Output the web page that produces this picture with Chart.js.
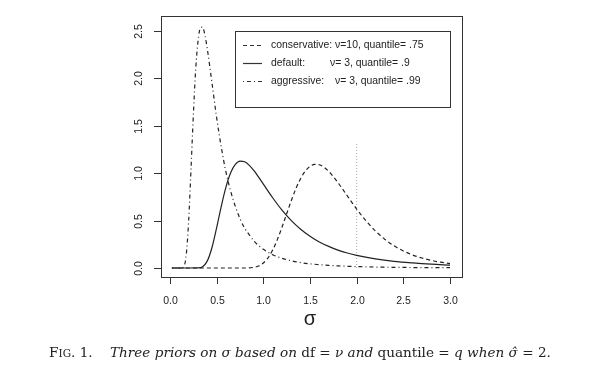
<!DOCTYPE html>
<html lang="en">
<head>
  <meta charset="UTF-8" />
  <title>Three priors on sigma</title>
  <script src="https://cdn.jsdelivr.net/npm/chart.js"></script>
  <style>
    body { margin: 0; background: #fff; }
    #wrap { position: relative; width: 600px; height: 379px; }
    #caption {
      position: absolute; left: 0; top: 344px; width: 600px;
      text-align: center; white-space: nowrap;
      font-family: "DejaVu Serif", "Liberation Serif", serif;
      font-size: 13.6px; color: #222;
    }
    #caption small { font-size: 10.5px; }
  </style>
</head>
<body>
  <div id="wrap">
    <canvas id="priors" width="600" height="379"></canvas>
    <div id="caption">F<small>IG</small>. 1.&nbsp;&nbsp;&nbsp; <i>Three priors on σ based on</i> df = <i>ν</i> <i>and</i> quantile = <i>q</i> <i>when</i> <i>σ̂</i> = 2.</div>
  </div>

  <script>
    const xTicks = [0, 0.5, 1, 1.5, 2, 2.5, 3];
    const yTicks = [0, 0.5, 1, 1.5, 2, 2.5];

    const sigmaAggressive = [0.02, 0.1, 0.125, 0.15, 0.175, 0.2, 0.225, 0.25, 0.275, 0.3, 0.325, 0.35, 0.375, 0.4, 0.45, 0.5, 0.55, 0.6, 0.65, 0.7, 0.75, 0.8, 0.85, 0.9, 0.95, 1.0, 1.1, 1.2, 1.3, 1.4, 1.5, 1.6, 1.7, 1.8, 1.9, 2.0, 2.2, 2.4, 2.6, 2.8, 3.0];
    const densAggressive = [0, 0, 0.0004, 0.018, 0.147, 0.50, 1.04, 1.61, 2.09, 2.39, 2.53, 2.54, 2.45, 2.31, 1.95, 1.585, 1.27, 1.01, 0.81, 0.65, 0.52, 0.42, 0.35, 0.285, 0.236, 0.197, 0.140, 0.102, 0.076, 0.057, 0.044, 0.035, 0.027, 0.022, 0.018, 0.015, 0.010, 0.007, 0.005, 0.004, 0.003];

    const sigmaDefault = [0.02, 0.2, 0.3, 0.35, 0.4, 0.45, 0.5, 0.55, 0.6, 0.65, 0.7, 0.75, 0.8, 0.85, 0.9, 0.95, 1.0, 1.1, 1.2, 1.3, 1.4, 1.5, 1.6, 1.7, 1.8, 1.9, 2.0, 2.2, 2.4, 2.6, 2.8, 3.0];
    const densDefault = [0, 0, 0.001, 0.014, 0.075, 0.216, 0.425, 0.653, 0.855, 1.004, 1.092, 1.127, 1.120, 1.083, 1.026, 0.958, 0.885, 0.741, 0.610, 0.500, 0.409, 0.335, 0.275, 0.228, 0.189, 0.158, 0.133, 0.096, 0.070, 0.053, 0.040, 0.031];

    const sigmaConservative = [0.02, 0.8, 0.9, 0.95, 1.0, 1.05, 1.1, 1.15, 1.2, 1.25, 1.3, 1.35, 1.4, 1.45, 1.5, 1.55, 1.6, 1.65, 1.7, 1.75, 1.8, 1.85, 1.9, 1.95, 2.0, 2.1, 2.2, 2.3, 2.4, 2.5, 2.6, 2.7, 2.8, 2.9, 3.0];
    const densConservative = [0, 0, 0.007, 0.021, 0.052, 0.107, 0.189, 0.299, 0.430, 0.572, 0.712, 0.839, 0.944, 1.023, 1.072, 1.094, 1.089, 1.063, 1.020, 0.964, 0.900, 0.831, 0.760, 0.690, 0.622, 0.498, 0.391, 0.304, 0.234, 0.180, 0.137, 0.105, 0.080, 0.061, 0.047];

    const sigmaHat = 2;
    const markerTop = 1.33;

    const legendRows = [
      { name: "conservative:", spec: "ν=10, quantile= .75", dash: [4, 3] },
      { name: "default:", spec: "ν= 3, quantile= .9", dash: [] },
      { name: "aggressive:", spec: "ν= 3, quantile= .99", dash: [1, 3, 4, 3] }
    ];

    function pts(xs, ys) {
      return xs.map((x, i) => ({ x: x, y: ys[i] }));
    }

    const ink = "#222";
    const sansFont = '"Liberation Sans", Arial, sans-serif';

    // R-style box, ticks, labels and legend
    const rFrame = {
      id: "rFrame",
      afterDraw(chart) {
        const ctx = chart.ctx;
        const a = chart.chartArea;
        const xs = chart.scales.x, ys = chart.scales.y;
        ctx.save();
        ctx.strokeStyle = "#333";
        ctx.lineWidth = 1;
        ctx.strokeRect(Math.round(a.left) + 0.5, Math.round(a.top) + 0.5, Math.round(a.right - a.left), Math.round(a.bottom - a.top));

        ctx.fillStyle = ink;
        ctx.font = "10.5px " + sansFont;
        ctx.textAlign = "center";
        ctx.textBaseline = "middle";
        xTicks.forEach(v => {
          const px = Math.round(xs.getPixelForValue(v)) + 0.5;
          ctx.beginPath();
          ctx.moveTo(px, a.bottom);
          ctx.lineTo(px, a.bottom + 7);
          ctx.stroke();
          ctx.fillText(v.toFixed(1), px, a.bottom + 24);
        });
        yTicks.forEach(v => {
          const py = Math.round(ys.getPixelForValue(v)) + 0.5;
          ctx.beginPath();
          ctx.moveTo(a.left, py);
          ctx.lineTo(a.left - 7, py);
          ctx.stroke();
          ctx.save();
          ctx.translate(a.left - 22, py);
          ctx.rotate(-Math.PI / 2);
          ctx.fillText(v.toFixed(1), 0, 0);
          ctx.restore();
        });
        ctx.font = "20px " + sansFont;
        ctx.fillText("σ", (xs.getPixelForValue(0) + xs.getPixelForValue(3)) / 2, a.bottom + 42);

        // legend
        const lx = 235.5, ly = 31.5, lw = 215, lh = 76;
        ctx.strokeRect(lx, ly, lw, lh);
        ctx.font = "10.4px " + sansFont;
        ctx.textAlign = "left";
        legendRows.forEach((row, i) => {
          const y = 45 + i * 18;
          ctx.beginPath();
          ctx.setLineDash(row.dash);
          ctx.lineWidth = 1.2;
          ctx.moveTo(243, y + 0.5);
          ctx.lineTo(262, y + 0.5);
          ctx.stroke();
          ctx.setLineDash([]);
          ctx.lineWidth = 1;
          if (i === 0) {
            ctx.fillText(row.name + " " + row.spec, 271, y);
          } else {
            ctx.fillText(row.name, 271, y);
            ctx.fillText(row.spec, i === 1 ? 330 : 335, y);
          }
        });
        ctx.restore();
      }
    };

    const lineStyle = { pointRadius: 0, borderColor: ink, borderWidth: 1.2, cubicInterpolationMode: "monotone", fill: false };

    new Chart(document.getElementById("priors"), {
      type: "line",
      data: {
        datasets: [
          Object.assign({ label: "conservative", data: pts(sigmaConservative, densConservative), borderDash: [4, 3] }, lineStyle),
          Object.assign({ label: "default", data: pts(sigmaDefault, densDefault) }, lineStyle),
          Object.assign({ label: "aggressive", data: pts(sigmaAggressive, densAggressive), borderDash: [1, 3, 4, 3] }, lineStyle),
          { label: "sigma hat", data: [{ x: sigmaHat, y: 0 }, { x: sigmaHat, y: markerTop }], borderColor: "#aaa", borderWidth: 1, borderDash: [1, 2], pointRadius: 0 }
        ]
      },
      options: {
        responsive: false,
        animation: false,
        layout: { padding: { left: 161, right: 138, top: 16, bottom: 102 } },
        plugins: { legend: { display: false }, tooltip: { enabled: false } },
        scales: {
          x: { type: "linear", display: false, min: -0.0964, max: 3.1286 },
          y: { type: "linear", display: false, min: -0.095, max: 2.658 }
        }
      },
      plugins: [rFrame]
    });
  </script>
</body>
</html>
